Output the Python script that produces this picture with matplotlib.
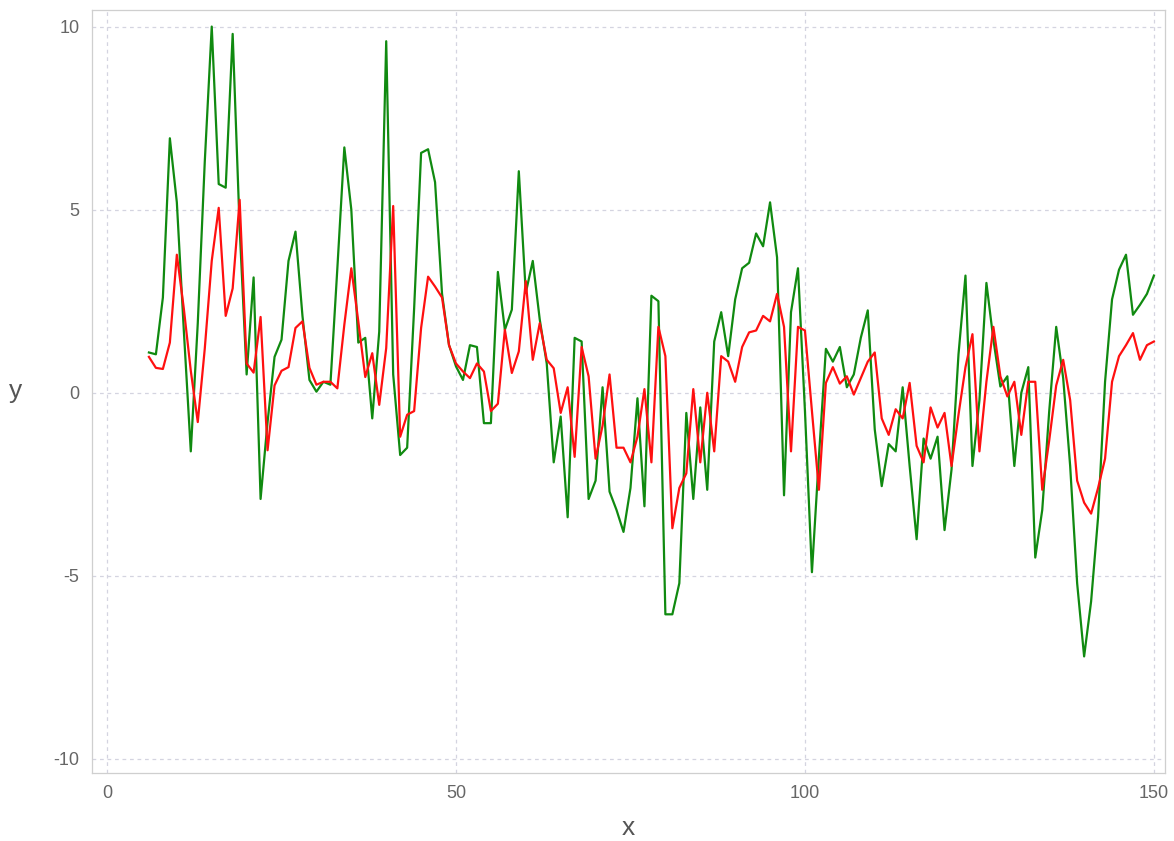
import numpy as np
import matplotlib
matplotlib.use("Agg")
import matplotlib.pyplot as plt

# x positions, one point per step
xs = list(range(6, 151))

green_y = [
    1.1, 1.05, 2.6, 6.95, 5.2, 1.7, -1.6, 1.9, 6.3, 10.0,          # 6-15
    5.7, 5.6, 9.8, 4.5, 0.5, 3.15, -2.9, -0.8, 0.98, 1.45,         # 16-25
    3.6, 4.4, 2.1, 0.35, 0.03, 0.3, 0.22, 3.4, 6.7, 5.0,           # 26-35
    1.37, 1.5, -0.7, 1.67, 9.6, 0.5, -1.7, -1.5, 2.3, 6.55,        # 36-45
    6.65, 5.75, 2.7, 1.3, 0.72, 0.35, 1.3, 1.25, -0.83, -0.83,     # 46-55
    3.3, 1.72, 2.27, 6.05, 2.73, 3.6, 2.0, 0.8, -1.9, -0.65,       # 56-65
    -3.4, 1.5, 1.4, -2.9, -2.4, 0.15, -2.7, -3.2, -3.8, -2.6,      # 66-75
    -0.15, -3.1, 2.65, 2.5, -6.05, -6.05, -5.2, -0.55, -2.9, -0.4, # 76-85
    -2.65, 1.4, 2.2, 1.0, 2.55, 3.4, 3.55, 4.35, 4.0, 5.2,         # 86-95
    3.7, -2.8, 2.2, 3.4, -0.5, -4.9, -1.75, 1.2, 0.85, 1.25,       # 96-105
    0.15, 0.5, 1.5, 2.25, -1.0, -2.55, -1.4, -1.6, 0.15, -2.0,     # 106-115
    -4.0, -1.25, -1.8, -1.2, -3.75, -2.1, 1.05, 3.2, -2.0, -0.2,   # 116-125
    3.0, 1.45, 0.17, 0.45, -2.0, 0.0, 0.7, -4.5, -3.2, -0.5,       # 126-135
    1.8, 0.4, -2.0, -5.2, -7.2, -5.7, -3.4, 0.3, 2.55, 3.36,       # 136-145
    3.77, 2.13, 2.4, 2.7, 3.2,                                     # 146-150
]

red_y = [
    0.98, 0.68, 0.65, 1.37, 3.77, 2.3, 0.6, -0.8, 1.2, 3.6,        # 6-15
    5.05, 2.1, 2.85, 5.27, 0.8, 0.55, 2.07, -1.57, 0.2, 0.6,       # 16-25
    0.7, 1.77, 1.95, 0.68, 0.22, 0.3, 0.3, 0.12, 1.86, 3.4,        # 26-35
    1.95, 0.43, 1.08, -0.33, 1.22, 5.1, -1.2, -0.6, -0.5, 1.77,    # 36-45
    3.17, 2.9, 2.6, 1.3, 0.8, 0.58, 0.4, 0.8, 0.58, -0.5,          # 46-55
    -0.3, 1.72, 0.54, 1.13, 3.05, 0.9, 1.9, 0.9, 0.67, -0.55,      # 56-65
    0.15, -1.75, 1.25, 0.45, -1.8, -0.9, 0.5, -1.5, -1.5, -1.9,    # 66-75
    -1.2, 0.1, -1.9, 1.8, 1.0, -3.7, -2.6, -2.2, 0.1, -1.9,        # 76-85
    0.0, -1.6, 1.0, 0.85, 0.3, 1.25, 1.65, 1.7, 2.1, 1.95,         # 86-95
    2.7, 1.8, -1.6, 1.8, 1.7, -0.5, -2.65, 0.27, 0.7, 0.25,        # 96-105
    0.45, -0.05, 0.4, 0.85, 1.1, -0.7, -1.15, -0.45, -0.7, 0.27,   # 106-115
    -1.45, -1.9, -0.4, -0.95, -0.55, -2.0, -0.6, 0.7, 1.6, -1.6,   # 116-125
    0.3, 1.8, 0.45, -0.1, 0.3, -1.15, 0.3, 0.3, -2.65, -1.3,       # 126-135
    0.2, 0.9, -0.2, -2.4, -3.0, -3.3, -2.6, -1.8, 0.3, 1.0,        # 136-145
    1.3, 1.63, 0.9, 1.3, 1.4,                                      # 146-150
]

x_ticks = [0, 50, 100, 150]
y_ticks = [-10, -5, 0, 5, 10]

plt.rcParams['font.family'] = ['Liberation Sans', 'DejaVu Sans']
plt.rcParams['axes.unicode_minus'] = False

fig = plt.figure(figsize=(11.74, 8.41), dpi=100)
ax = fig.add_axes([0.0784, 0.081, 0.914, 0.907])

ax.plot(xs, green_y, color='#108a10', lw=1.6)
ax.plot(xs, red_y, color='#ff1010', lw=1.6)

ax.set_xlim(-2.15, 151.6)
ax.set_ylim(-10.38, 10.45)
ax.set_xticks(x_ticks)
ax.set_yticks(y_ticks)
ax.tick_params(length=0, labelsize=13, colors='#666666', pad=9)

ax.grid(True, linestyle=(0, (3, 3)), color='#d4d4e0', lw=0.9)
ax.set_axisbelow(True)
for s in ax.spines.values():
    s.set_color('#cfcfcf')
    s.set_linewidth(0.9)

ax.set_xlabel('x', fontsize=19, color='#555555', va='center', ha='center')
ax.set_ylabel('y', fontsize=19, color='#555555', rotation=0, va='center', ha='center')
ax.xaxis.set_label_coords(0.5, -0.072)
ax.yaxis.set_label_coords(-0.071, 0.5)

fig.savefig('out.png', dpi=100)
